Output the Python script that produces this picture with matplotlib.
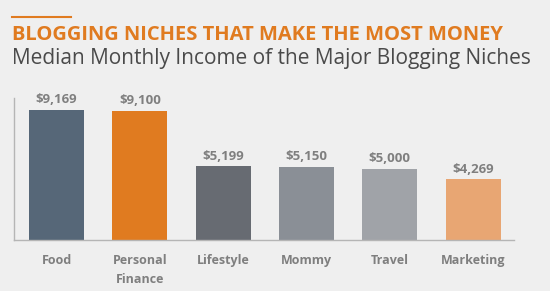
import matplotlib
matplotlib.use("Agg")
import matplotlib.pyplot as plt

# data
niches = ["Food", "Personal\nFinance", "Lifestyle", "Mommy", "Travel", "Marketing"]
income = [9169, 9100, 5199, 5150, 5000, 4269]
bar_colors = ["#566778", "#e07b20", "#676b72", "#8a8f96", "#a0a3a8", "#e8a673"]

bg = "#efefef"
text_gray = "#7f7f7f"

plt.rcParams['font.family'] = ['Open Sans', 'DejaVu Sans']

fig = plt.figure(figsize=(5.5, 2.91), dpi=100, facecolor=bg)
ax = fig.add_axes([0.0255, 0.1753, 0.909, 0.4879], facecolor=bg)

x = range(len(niches))
bars = ax.bar(x, income, width=0.66, color=bar_colors)

for rect, val in zip(bars, income):
    ax.text(rect.get_x() + rect.get_width() / 2, val + 250, f"${val:,}",
            ha="center", va="bottom", fontsize=9.5, fontweight="bold", color=text_gray)

ax.set_xlim(-0.51, 5.49)
ax.set_ylim(0, 10000)
ax.set_xticks(list(x))
ax.set_xticklabels(niches, fontsize=9, fontweight="bold", color=text_gray, linespacing=1.65)
ax.tick_params(axis="x", length=0, pad=10)
ax.set_yticks([])

for side in ["top", "right"]:
    ax.spines[side].set_visible(False)
for side in ["left", "bottom"]:
    ax.spines[side].set_color("#b5b5b5")
    ax.spines[side].set_linewidth(1)

# header
fig.add_artist(plt.Line2D([12 / 550, 71 / 550], [1 - 17 / 291, 1 - 17 / 291],
                          color="#e07b20", linewidth=1.5))
fig.text(12 / 550, 1 - 34.5 / 291, "BLOGGING NICHES THAT MAKE THE MOST MONEY",
         fontsize=14.5, fontweight="bold", color="#e07b20", ha="left", va="center")
fig.text(12 / 550, 1 - 59 / 291, "Median Monthly Income of the Major Blogging Niches",
         fontsize=15, color="#4a4a4a", ha="left", va="center")

fig.savefig("out.png", dpi=100, facecolor=bg)
